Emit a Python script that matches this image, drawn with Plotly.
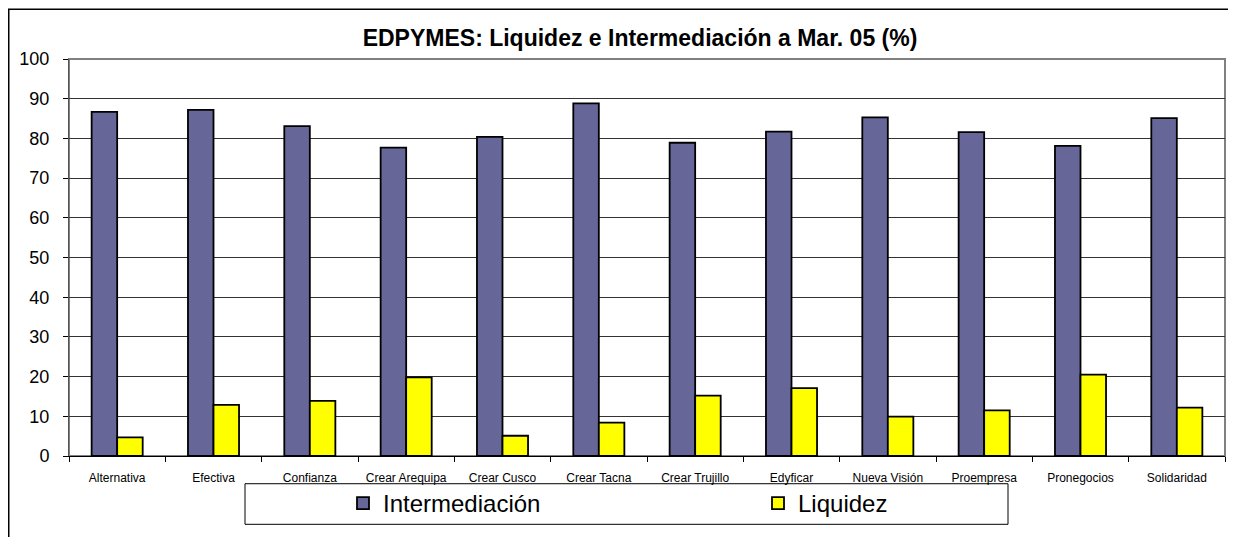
import plotly.graph_objects as go

categories = ["Alternativa", "Efectiva", "Confianza", "Crear Arequipa", "Crear Cusco",
              "Crear Tacna", "Crear Trujillo", "Edyficar", "Nueva Visión", "Proempresa",
              "Pronegocios", "Solidaridad"]
intermediacion = [86.7, 87.2, 83.1, 77.7, 80.4, 88.8, 78.9, 81.7, 85.3, 81.6, 78.1, 85.1]
liquidez = [4.7, 12.9, 13.9, 19.8, 5.1, 8.4, 15.2, 17.1, 9.9, 11.5, 20.5, 12.2]
y_ticks = [0, 10, 20, 30, 40, 50, 60, 70, 80, 90, 100]

# page body has an 8px default margin; work in reference-pixel coordinates and offset
OFF = 8
W, H = 1236 - OFF, 537 - OFF
L, R, T, B = 69 - OFF, 1225 - OFF, 59 - OFF, 460 - OFF
pw, ph = R - L, B - T

def px(x):
    return (max(x - OFF, 0.75) - L) / pw

def py(y):
    return (B - max(y - OFF, 0.75)) / ph

FONT = "Liberation Sans, Arial, sans-serif"

fig = go.Figure()
fig.add_trace(go.Bar(x=categories, y=intermediacion, name="Intermediación",
                     marker=dict(color="#666699", line=dict(color="#000000", width=1.8))))
fig.add_trace(go.Bar(x=categories, y=liquidez, name="Liquidez",
                     marker=dict(color="#FFFF00", line=dict(color="#000000", width=1.8))))

fig.update_layout(
    width=W, height=H,
    margin=dict(l=L, r=W - R, t=T, b=H - B, pad=0),
    paper_bgcolor="white", plot_bgcolor="white",
    font=dict(family=FONT, color="black"),
    barmode="group", bargap=0.47, bargroupgap=0,
    title=dict(text="<b>EDPYMES: Liquidez e Intermediación a Mar. 05 (%)</b>",
               x=(640 - OFF) / W, xanchor="center", y=1 - (38 - OFF) / H, yanchor="middle",
               font=dict(size=23, family=FONT, color="black")),
    showlegend=True,
    legend=dict(orientation="h", x=px(343), xanchor="left", y=py(508), yanchor="middle",
                font=dict(size=24, family=FONT, color="black"),
                bgcolor="rgba(0,0,0,0)", borderwidth=0,
                entrywidth=370, entrywidthmode="pixels", traceorder="normal"),
    xaxis=dict(showgrid=False, showline=True, linecolor="#000000", linewidth=1,
               ticks="outside", tickson="boundaries", ticklen=5, tickcolor="#000000",
               ticklabelstandoff=11,
               tickfont=dict(size=12, family=FONT, color="black"), fixedrange=True),
    yaxis=dict(range=[0, 100], tickvals=y_ticks, showgrid=True, gridcolor="#333333",
               gridwidth=1, showline=True, linecolor="#555555", linewidth=1,
               ticks="outside", ticklen=5, tickcolor="#000000", zeroline=False,
               ticklabelstandoff=10,
               tickfont=dict(size=18, family=FONT, color="black"), fixedrange=True),
    shapes=[
        dict(type="rect", xref="paper", yref="paper", x0=0, x1=1, y0=0, y1=1,
             line=dict(color="#808080", width=2), layer="below"),
        dict(type="rect", xref="paper", yref="paper",
             x0=px(6), x1=px(1234), y0=py(560), y1=py(4),
             line=dict(color="#000000", width=1.5), layer="above"),
        dict(type="rect", xref="paper", yref="paper",
             x0=px(245), x1=px(1008), y0=py(529), y1=py(488),
             line=dict(color="#000000", width=1), fillcolor="rgba(0,0,0,0)", layer="above"),
    ],
)

fig.write_html("out.html")
